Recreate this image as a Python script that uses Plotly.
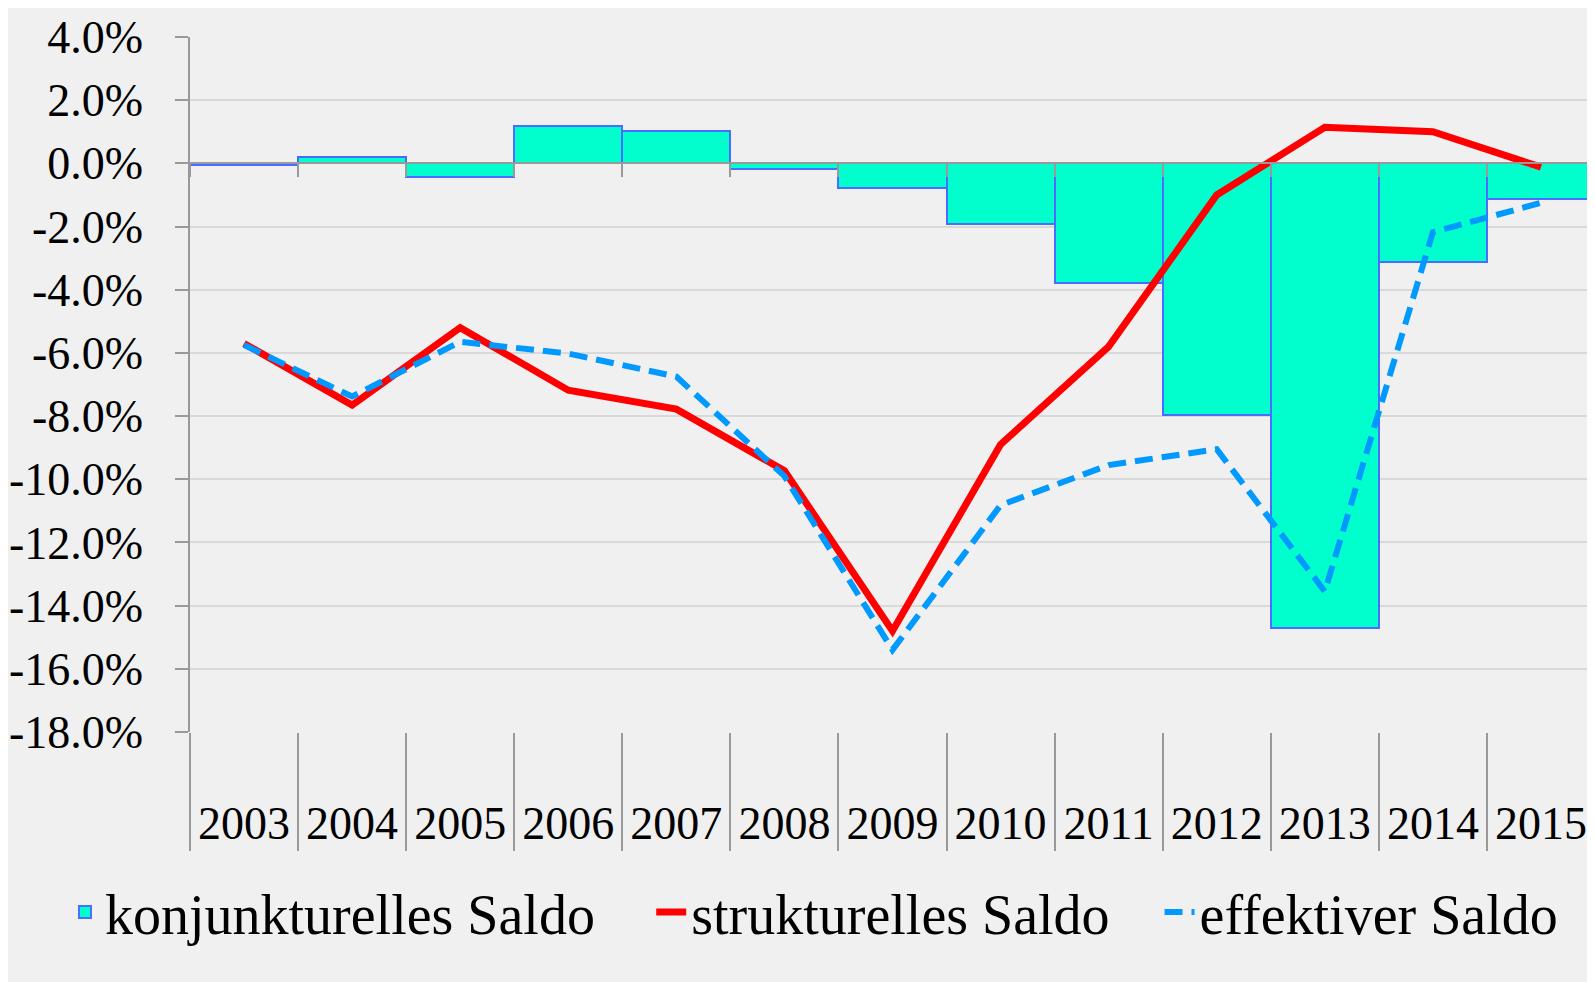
import plotly.graph_objects as go

YEARS = ['2003', '2004', '2005', '2006', '2007', '2008', '2009',
         '2010', '2011', '2012', '2013', '2014', '2015']
KONJUNKTURELL = [-0.05, 0.2, -0.42, 1.19, 1.03, -0.19, -0.77,
                 -1.93, -3.8, -7.97, -14.7, -3.12, -1.13]
STRUKTURELL = [-5.7, -7.65, -5.2, -7.18, -7.78, -9.73, -14.8,
               -8.9, -5.8, -1.0, 1.14, 1.0, -0.12]
EFFEKTIV = [-5.75, -7.38, -5.65, -6.02, -6.75, -9.9, -15.4,
            -10.82, -9.55, -9.05, -13.55, -2.18, -1.25]
Y_TICKS = [-18, -16, -14, -12, -10, -8, -6, -4, -2, 0, 2, 4]
Y_LABELS = ['-18.0%', '-16.0%', '-14.0%', '-12.0%', '-10.0%', '-8.0%',
            '-6.0%', '-4.0%', '-2.0%', '0.0%', '2.0%', '4.0%']

FONT = 'Liberation Serif, Times New Roman, serif'
AXIS_GRAY = '#999999'

fig = go.Figure()

# bars on the base axis, lines on the overlay so they are drawn on top
fig.add_trace(go.Bar(
    x=YEARS, y=KONJUNKTURELL, name='konjunkturelles Saldo',
    xaxis='x', legend='legend',
    marker=dict(color='#00ffcc', line=dict(color='#4a6cff', width=2)),
))
fig.add_trace(go.Scatter(
    x=YEARS, y=STRUKTURELL, name='strukturelles Saldo', mode='lines',
    xaxis='x2', legend='legend2', line=dict(color='#ff0000', width=7),
))
fig.add_trace(go.Scatter(
    x=YEARS, y=EFFEKTIV, name='effektiver Saldo', mode='lines',
    xaxis='x2', legend='legend3',
    line=dict(color='#0099ff', width=6, dash='18px,9px'),
))

legend_style = dict(orientation='h', yanchor='middle', y=-0.259, xanchor='left',
                    xref='container', bgcolor='rgba(0,0,0,0)',
                    font=dict(family=FONT, size=56, color='black'))

# page body adds an 8px margin, so the figure is a bit smaller than the window
fig.update_layout(
    width=1587, height=974,
    margin=dict(l=182, r=0, t=29, b=250, autoexpand=False),
    paper_bgcolor='#f0f0f0', plot_bgcolor='#f0f0f0',
    bargap=0,
    showlegend=True,
    font=dict(family=FONT, color='black'),
    legend=dict(legend_style, x=0.0359),
    legend2=dict(legend_style, x=0.4053),
    legend3=dict(legend_style, x=0.7256),
    xaxis=dict(
        type='category', range=[-0.5, 12.5],
        tickson='boundaries', ticks='outside', ticklen=118,
        tickcolor=AXIS_GRAY, tickwidth=1.5,
        showline=False, showgrid=False, zeroline=False, automargin=False,
        tickfont=dict(family=FONT, size=46, color='black'),
        ticklabelstandoff=60,
    ),
    xaxis2=dict(
        type='category', matches='x', overlaying='x',
        anchor='free', position=18 / 22, side='bottom',
        tickson='boundaries', ticks='outside', ticklen=13,
        tickcolor=AXIS_GRAY, tickwidth=1.5,
        showline=True, linecolor=AXIS_GRAY, linewidth=1.5,
        showgrid=False, showticklabels=False, automargin=False,
    ),
    yaxis=dict(
        range=[-18, 4], tickvals=Y_TICKS, ticktext=Y_LABELS,
        ticks='outside', ticklen=13, tickcolor=AXIS_GRAY, tickwidth=1.5,
        showline=True, linecolor=AXIS_GRAY, linewidth=1.5,
        gridcolor='#d9d9d9', gridwidth=1.5, zeroline=False, automargin=False,
        tickfont=dict(family=FONT, size=46, color='black'),
        ticklabelstandoff=23,
    ),
)

fig.write_html('out.html')
